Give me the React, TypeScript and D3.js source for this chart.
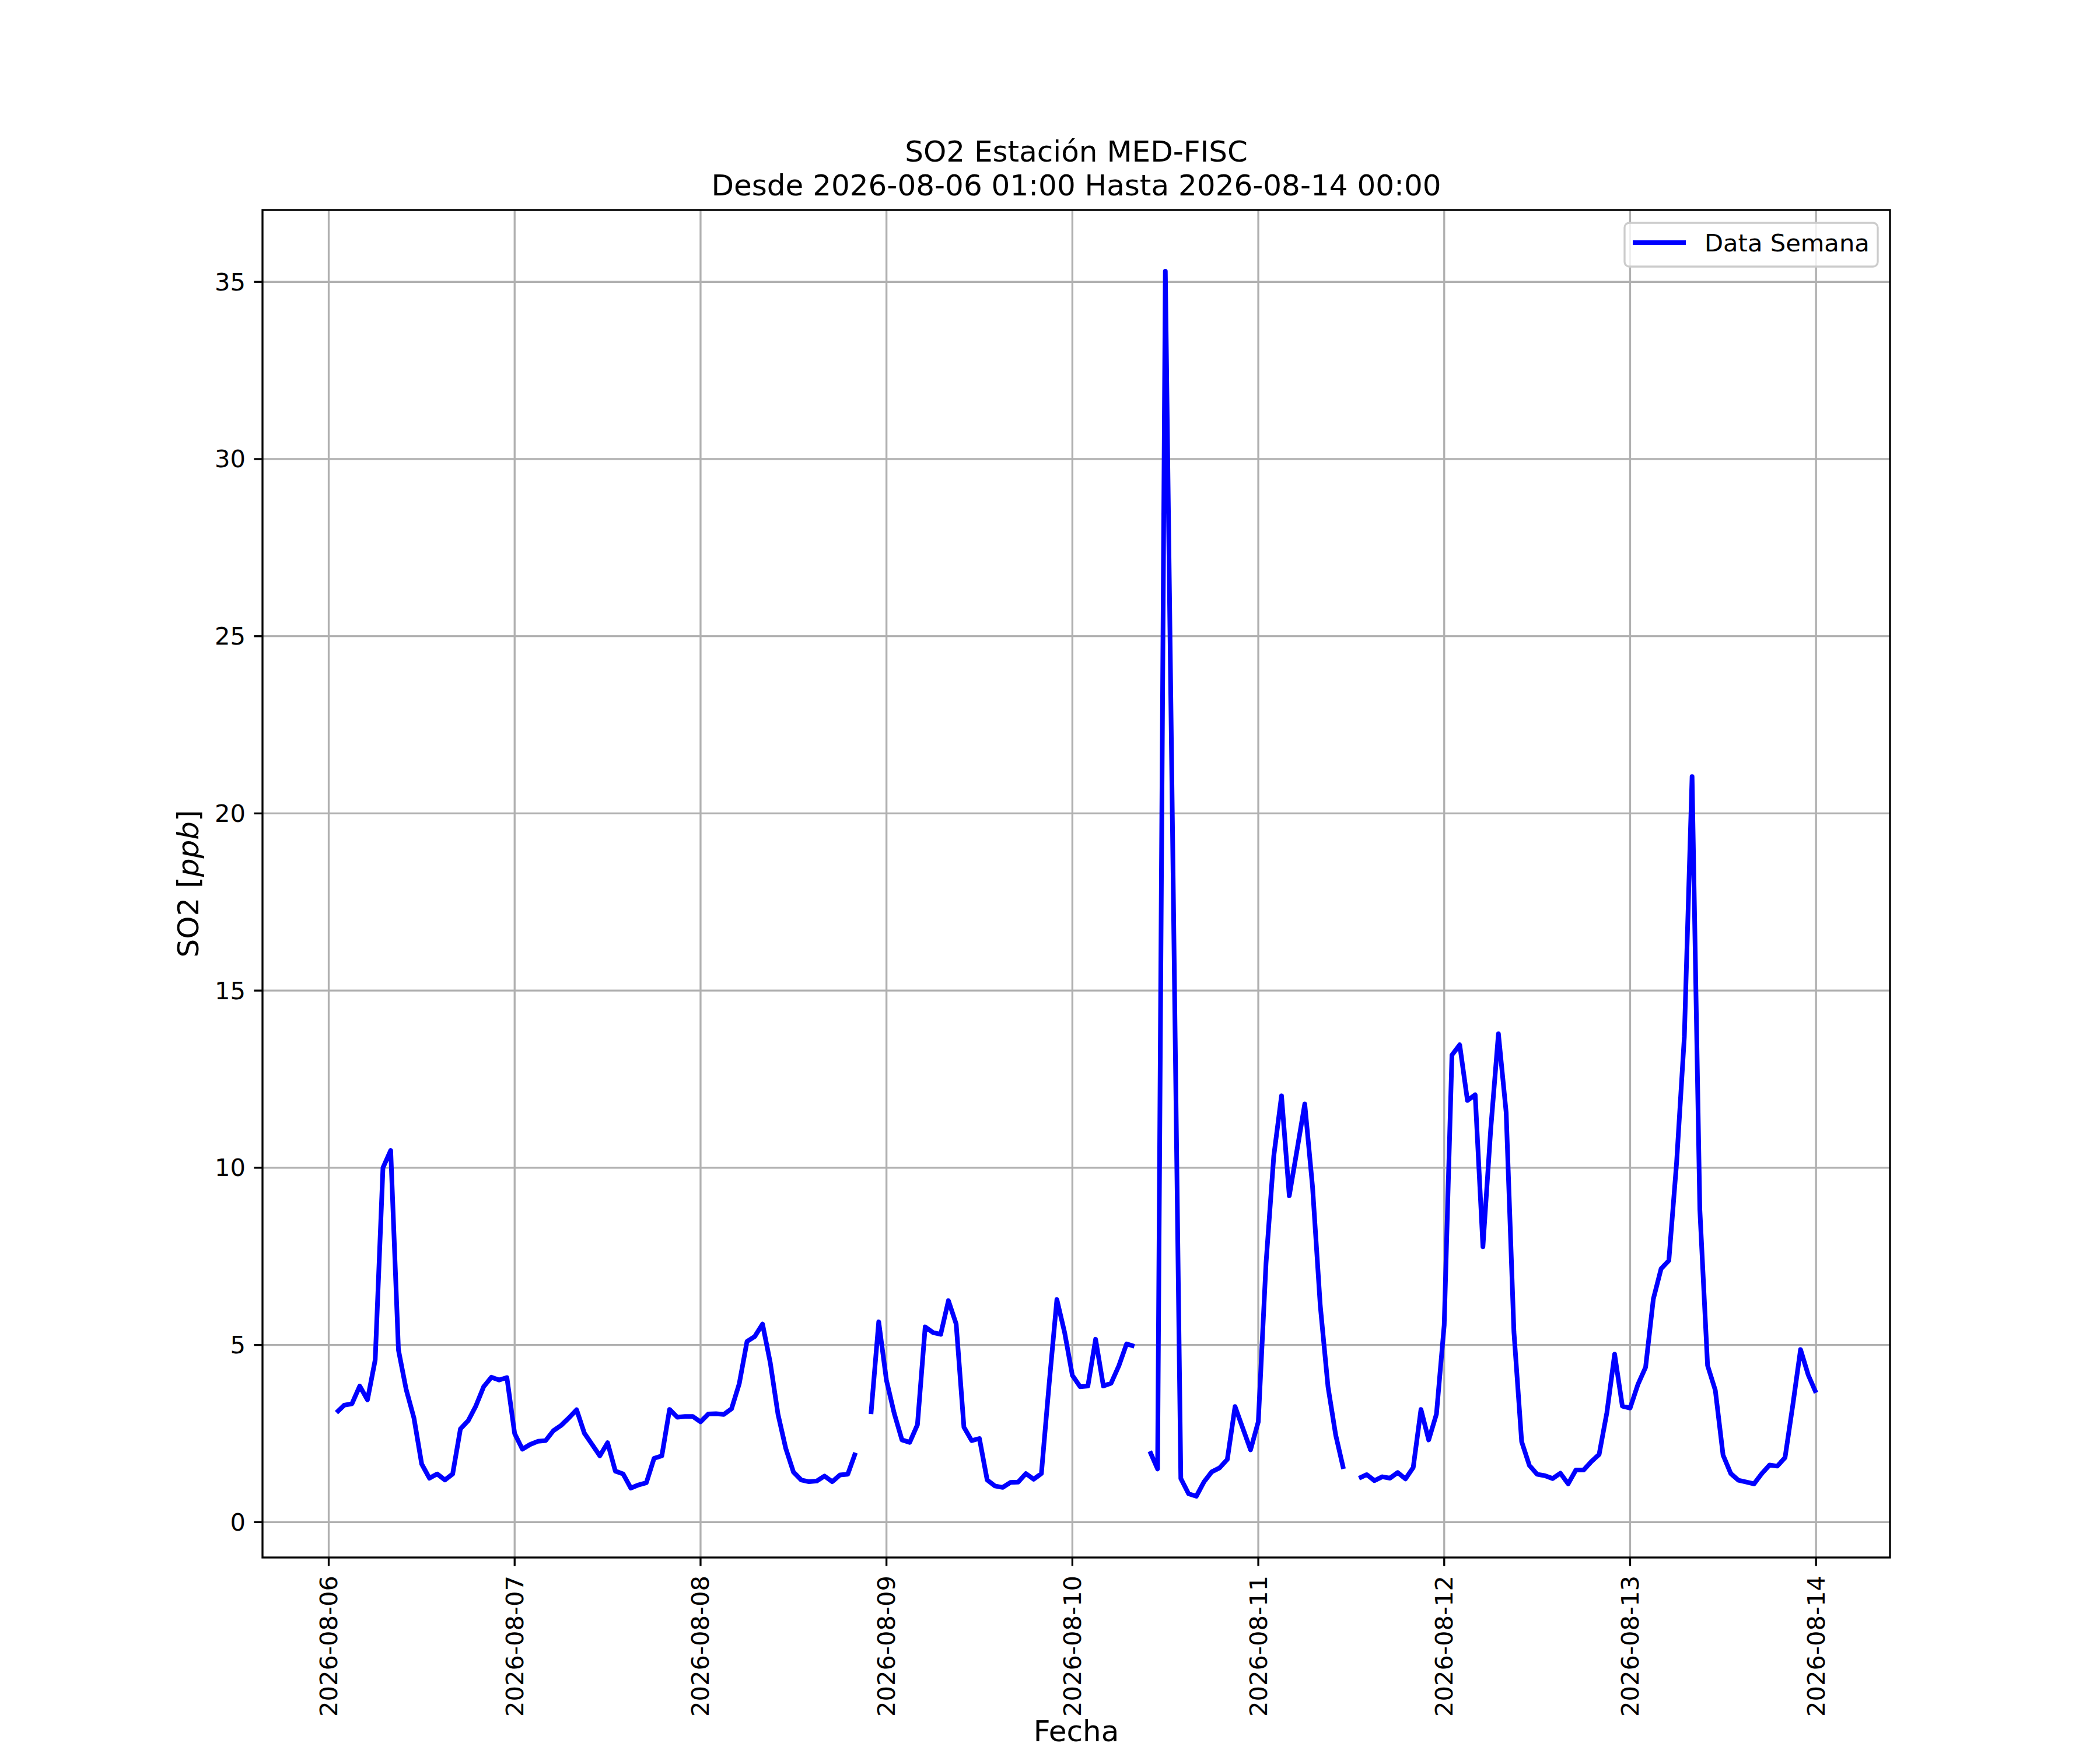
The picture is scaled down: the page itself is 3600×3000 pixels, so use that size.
import React, { useEffect, useRef } from 'react';
import * as d3 from 'd3';

// hourly SO2 readings, null = missing hour
const day06 = [3.09, 3.3, 3.34, 3.84, 3.45, 4.58, 10.0, 10.49, 4.86, 3.74, 2.94, 1.64, 1.24, 1.36, 1.19, 1.36, 2.63, 2.86, 3.28, 3.82, 4.09, 4.01, 4.08]; // starts 01:00
const day07 = [2.5, 2.06, 2.19, 2.28, 2.3, 2.58, 2.73, 2.94, 3.17, 2.51, 2.19, 1.87, 2.24, 1.44, 1.36, 0.96, 1.05, 1.11, 1.8, 1.87, 3.18, 2.96, 2.98, 2.98];
const day08 = [2.83, 3.05, 3.06, 3.04, 3.2, 3.91, 5.1, 5.24, 5.59, 4.5, 3.04, 2.08, 1.41, 1.19, 1.14, 1.16, 1.3, 1.14, 1.33, 1.35, 1.96, null, 3.05, 5.65];
const day09 = [4.0, 3.07, 2.32, 2.25, 2.75, 5.51, 5.35, 5.3, 6.25, 5.59, 2.68, 2.3, 2.36, 1.19, 1.02, 0.98, 1.12, 1.13, 1.37, 1.21, 1.37, 3.9, 6.28, 5.35];
const day10 = [4.14, 3.82, 3.84, 5.16, 3.84, 3.92, 4.41, 5.03, 4.96, null, 2.0, 1.5, 35.3, 18.3, 1.23, 0.8, 0.73, 1.14, 1.42, 1.53, 1.77, 3.26, 2.65, 2.04];
const day11 = [2.83, 7.31, 10.33, 12.03, 9.21, 10.5, 11.8, 9.47, 6.11, 3.82, 2.45, 1.5, null, 1.24, 1.34, 1.17, 1.28, 1.24, 1.4, 1.22, 1.54, 3.18, 2.32, 3.05];
const day12 = [5.56, 13.18, 13.47, 11.9, 12.06, 7.77, 11.07, 13.78, 11.56, 5.37, 2.27, 1.6, 1.35, 1.31, 1.23, 1.38, 1.08, 1.47, 1.47, 1.71, 1.91, 3.09, 4.74, 3.27];
const day13 = [3.22, 3.88, 4.37, 6.3, 7.15, 7.38, 10.14, 13.69, 21.04, 8.83, 4.42, 3.72, 1.89, 1.37, 1.18, 1.13, 1.08, 1.37, 1.61, 1.58, 1.82, 3.3, 4.87, 4.15];
const day14 = [3.65]; // 00:00

const startTime = new Date(Date.UTC(2026, 7, 6, 1));
const yTicks = [0, 5, 10, 15, 20, 25, 30, 35];

const titleLines = ['SO2 Estación MED-FISC', 'Desde 2026-08-06 01:00 Hasta 2026-08-14 00:00'];
const seriesName = 'Data Semana';

const W = 3600;
const H = 3000;
const left = 450, right = 3240, top = 360, bottom = 2670;
const font = 'DejaVu Sans, Noto Sans, sans-serif';

const App: React.FC = () => {
  const svgRef = useRef<SVGSVGElement | null>(null);

  useEffect(() => {
    if (!svgRef.current) return;
    const svg = d3.select(svgRef.current);
    svg.selectAll('*').remove();

    const values = [...day06, ...day07, ...day08, ...day09, ...day10, ...day11, ...day12, ...day13, ...day14];
    const data = values.map((v, i) => ({ t: d3.utcHour.offset(startTime, i), v }));

    const t0 = data[0].t.getTime();
    const t1 = data[data.length - 1].t.getTime();
    const tPad = (t1 - t0) * 0.05;
    const x = d3.scaleUtc().domain([new Date(t0 - tPad), new Date(t1 + tPad)]).range([left, right]);

    const nums = values.filter((v): v is number => v != null);
    const vMin = d3.min(nums)!;
    const vMax = d3.max(nums)!;
    const vPad = (vMax - vMin) * 0.05;
    const y = d3.scaleLinear().domain([vMin - vPad, vMax + vPad]).range([bottom, top]);

    svg.append('rect').attr('width', W).attr('height', H).attr('fill', '#ffffff');

    const days = d3.utcDay.range(new Date(Date.UTC(2026, 7, 6)), new Date(Date.UTC(2026, 7, 14, 1)));
    const fmt = d3.utcFormat('%Y-%m-%d');

    // grid
    const grid = svg.append('g').attr('stroke', '#b0b0b0').attr('stroke-width', 3.33);
    days.forEach((d) => {
      grid.append('line').attr('x1', x(d)).attr('x2', x(d)).attr('y1', top).attr('y2', bottom);
    });
    yTicks.forEach((v) => {
      grid.append('line').attr('x1', left).attr('x2', right).attr('y1', y(v)).attr('y2', y(v));
    });

    // series
    const line = d3.line<{ t: Date; v: number | null }>()
      .defined((d) => d.v != null)
      .x((d) => x(d.t))
      .y((d) => y(d.v as number));

    svg.append('path')
      .datum(data)
      .attr('d', line)
      .attr('fill', 'none')
      .attr('stroke', '#0000ff')
      .attr('stroke-width', 8)
      .attr('stroke-linejoin', 'round');

    // spines
    svg.append('rect')
      .attr('x', left).attr('y', top)
      .attr('width', right - left).attr('height', bottom - top)
      .attr('fill', 'none').attr('stroke', '#000').attr('stroke-width', 3.33);

    // x ticks
    const xt = svg.append('g');
    days.forEach((d) => {
      xt.append('line').attr('x1', x(d)).attr('x2', x(d)).attr('y1', bottom).attr('y2', bottom + 14.6)
        .attr('stroke', '#000').attr('stroke-width', 3.33);
      const ty = bottom + 31;
      xt.append('text')
        .attr('x', x(d)).attr('y', ty)
        .attr('transform', `rotate(-90, ${x(d)}, ${ty})`)
        .attr('text-anchor', 'end')
        .attr('dominant-baseline', 'central')
        .attr('font-family', font).attr('font-size', 41.67)
        .text(fmt(d));
    });

    // y ticks
    const yt = svg.append('g');
    yTicks.forEach((v) => {
      yt.append('line').attr('x1', left - 14.6).attr('x2', left).attr('y1', y(v)).attr('y2', y(v))
        .attr('stroke', '#000').attr('stroke-width', 3.33);
      yt.append('text')
        .attr('x', left - 29).attr('y', y(v))
        .attr('text-anchor', 'end')
        .attr('dominant-baseline', 'central')
        .attr('font-family', font).attr('font-size', 41.67)
        .text(v);
    });

    // axis labels
    svg.append('text')
      .attr('x', (left + right) / 2).attr('y', 2985)
      .attr('text-anchor', 'middle')
      .attr('font-family', font).attr('font-size', 50)
      .text('Fecha');

    const yl = svg.append('text')
      .attr('transform', `translate(340, ${(top + bottom) / 2}) rotate(-90)`)
      .attr('text-anchor', 'middle')
      .attr('font-family', font).attr('font-size', 50);
    yl.append('tspan').text('SO2 [');
    yl.append('tspan').attr('font-style', 'italic').text('ppb');
    yl.append('tspan').text(']');

    // title
    titleLines.forEach((s, i) => {
      svg.append('text')
        .attr('x', (left + right) / 2).attr('y', 277 + i * 58)
        .attr('text-anchor', 'middle')
        .attr('font-family', font).attr('font-size', 50)
        .text(s);
    });

    // legend
    const lg = svg.append('g');
    lg.append('rect')
      .attr('x', 2785).attr('y', 382).attr('width', 434).attr('height', 75)
      .attr('rx', 8).attr('ry', 8)
      .attr('fill', '#ffffff').attr('fill-opacity', 0.8)
      .attr('stroke', '#cccccc').attr('stroke-width', 3.33);
    lg.append('line')
      .attr('x1', 2799).attr('x2', 2890).attr('y1', 416).attr('y2', 416)
      .attr('stroke', '#0000ff').attr('stroke-width', 8);
    lg.append('text')
      .attr('x', 2922).attr('y', 431)
      .attr('font-family', font).attr('font-size', 41.67)
      .text(seriesName);
  }, []);

  return (
    <div style={{ position: 'absolute', left: 0, top: 0 }}>
      <svg ref={svgRef} width={W} height={H} style={{ display: 'block' }}></svg>
    </div>
  );
};

export default App;
